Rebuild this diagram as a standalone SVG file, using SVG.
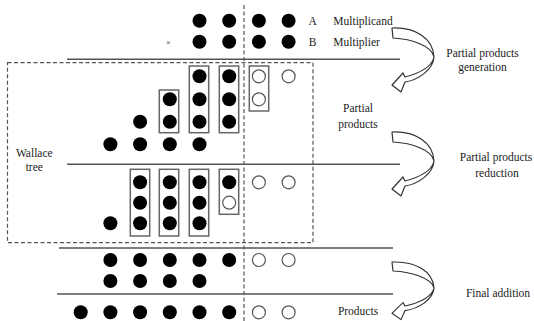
<svg xmlns="http://www.w3.org/2000/svg" width="534" height="321" viewBox="0 0 534 321">
<style>
.f{fill:#000}
.o{fill:#fff;stroke:#555;stroke-width:1.2}
.box{fill:none;stroke:#666;stroke-width:1.5}
.ln{stroke:#555;stroke-width:1.5;fill:none}
.dash{stroke:#555;stroke-width:1.2;fill:none;stroke-dasharray:4 2.5}
.t{font-family:"Liberation Serif","Times New Roman",serif;font-size:11.5px;fill:#222}
.m{text-anchor:middle}
.arr{fill:#fff;stroke:#333;stroke-width:1.2;stroke-linejoin:round}
</style>
<defs>
<circle id="d" r="7" class="f"/>
<circle id="e" r="6.5" class="o"/>
<path id="ca" class="arr" d="M0,0 C23,-1 41,10 42,29 C41,42 26,52 13,54 L9,64 L0,57 L11,45 L13,49 C28,45 40,39 42,29 C40,18 20,11 1,10 Z"/>
</defs>
<rect width="534" height="321" fill="#fff"/>
<g id="connectors">
<line class="ln" x1="67" y1="59.3" x2="400" y2="59.3"/>
<line class="ln" x1="67" y1="164.3" x2="400" y2="164.3"/>
<line class="ln" x1="59" y1="248" x2="393" y2="248"/>
<line class="ln" x1="57" y1="294" x2="393" y2="294"/>
<line class="dash" x1="244" y1="5" x2="244" y2="321"/>
<use href="#ca" transform="translate(392,28)"/>
<use href="#ca" transform="translate(392,132)"/>
<use href="#ca" transform="translate(392,262) scale(1,0.9)"/>
</g>
<g id="wallace-tree">
<rect class="dash" x="7.5" y="62.7" width="305.5" height="180"/>
<text class="t m" x="34.3" y="156.7">Wallace</text>
<text class="t m" x="34.3" y="171.3">tree</text>
</g>
<g id="operands">
<use href="#d" x="199.5" y="20.7"/><use href="#d" x="229.2" y="20.7"/><use href="#d" x="258.9" y="20.7"/><use href="#d" x="288.6" y="20.7"/>
<use href="#d" x="199.5" y="41.7"/><use href="#d" x="229.2" y="41.7"/><use href="#d" x="258.9" y="41.7"/><use href="#d" x="288.6" y="41.7"/>
<text x="168.3" y="44.5" font-family="Liberation Sans, sans-serif" font-size="8" fill="#555" text-anchor="middle">×</text>
<text class="t m" x="312.7" y="24.7">A</text>
<text class="t" x="333.3" y="24.7">Multiplicand</text>
<text class="t m" x="312.7" y="45.7">B</text>
<text class="t" x="333.3" y="45.7">Multiplier</text>
</g>
<g id="partial-products">
<rect class="box" x="159.3" y="90" width="19.4" height="42.7"/>
<rect class="box" x="189.3" y="66" width="19.4" height="66.7"/>
<rect class="box" x="219.3" y="66" width="19.4" height="66.7"/>
<rect class="box" x="249.3" y="66" width="19.4" height="45"/>
<use href="#d" x="199.5" y="76.3"/><use href="#d" x="229.2" y="76.3"/><use href="#e" x="258.9" y="76.3"/><use href="#e" x="288.6" y="76.3"/>
<use href="#d" x="169.8" y="99.3"/><use href="#d" x="199.5" y="99.3"/><use href="#d" x="229.2" y="99.3"/><use href="#e" x="258.9" y="99.3"/>
<use href="#d" x="140.1" y="121.7"/><use href="#d" x="169.8" y="121.7"/><use href="#d" x="199.5" y="121.7"/><use href="#d" x="229.2" y="121.7"/>
<use href="#d" x="110.4" y="144.3"/><use href="#d" x="140.1" y="144.3"/><use href="#d" x="169.8" y="144.3"/><use href="#d" x="199.5" y="144.3"/>
<text class="t m" x="358" y="112.3">Partial</text>
<text class="t m" x="358" y="128">products</text>
</g>
<g id="reduction">
<rect class="box" x="130.3" y="169.3" width="19.4" height="66.7"/>
<rect class="box" x="159.3" y="169.3" width="19.4" height="66.7"/>
<rect class="box" x="189.3" y="169.3" width="19.4" height="66.7"/>
<rect class="box" x="219.3" y="169.3" width="19.4" height="45"/>
<use href="#d" x="140.1" y="182.3"/><use href="#d" x="169.8" y="182.3"/><use href="#d" x="199.5" y="182.3"/><use href="#d" x="229.2" y="182.3"/><use href="#e" x="258.9" y="182.3"/><use href="#e" x="288.6" y="182.3"/>
<use href="#d" x="140.1" y="202.7"/><use href="#d" x="169.8" y="202.7"/><use href="#d" x="199.5" y="202.7"/><use href="#e" x="229.2" y="202.7"/>
<use href="#d" x="110.4" y="223.3"/><use href="#d" x="140.1" y="223.3"/><use href="#d" x="169.8" y="223.3"/><use href="#d" x="199.5" y="223.3"/>
</g>
<g id="final-rows">
<use href="#d" x="110.4" y="260"/><use href="#d" x="140.1" y="260"/><use href="#d" x="169.8" y="260"/><use href="#d" x="199.5" y="260"/><use href="#d" x="229.2" y="260"/><use href="#e" x="258.9" y="260"/><use href="#e" x="288.6" y="260"/>
<use href="#d" x="110.4" y="281"/><use href="#d" x="140.1" y="281"/><use href="#d" x="169.8" y="281"/><use href="#d" x="199.5" y="281"/>
</g>
<g id="products">
<use href="#d" x="80.7" y="312.3"/><use href="#d" x="110.4" y="312.3"/><use href="#d" x="140.1" y="312.3"/><use href="#d" x="169.8" y="312.3"/><use href="#d" x="199.5" y="312.3"/><use href="#d" x="229.2" y="312.3"/><use href="#e" x="258.9" y="312.3"/><use href="#e" x="288.6" y="312.3"/>
<text class="t m" x="358" y="315">Products</text>
</g>
<g id="stage-labels">
<text class="t m" x="482.5" y="56.7">Partial products</text>
<text class="t m" x="482.5" y="70.7">generation</text>
<text class="t m" x="496" y="161.3">Partial products</text>
<text class="t m" x="497" y="177.3">reduction</text>
<text class="t m" x="498" y="297.3">Final addition</text>
</g>
</svg>
